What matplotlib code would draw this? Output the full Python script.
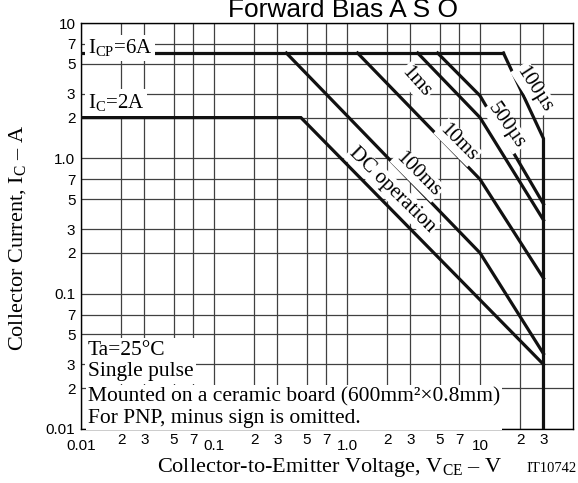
import matplotlib
matplotlib.use("Agg")
import matplotlib.pyplot as plt
from matplotlib.ticker import FixedLocator, FixedFormatter

plt.rcParams['font.family'] = ['Liberation Serif', 'DejaVu Serif']
plt.rcParams['mathtext.fontset'] = 'custom'
plt.rcParams['mathtext.rm'] = 'Liberation Serif'
plt.rcParams['mathtext.it'] = 'Liberation Serif:italic'

# SOA limit lines (V_CE in V, I_C in A)
icp_v = [0.01, 15]
icp_i = [6, 6]
dc_v = [0.01, 0.45, 30]
dc_i = [2, 2, 0.03]
ms100_v = [0.35, 10, 30]
ms100_i = [6, 0.2, 0.036]
ms10_v = [1.2, 10, 30]
ms10_i = [6, 0.7, 0.13]
ms1_v = [3.4, 10, 30]
ms1_i = [6, 2.0, 0.35]
us500_v = [4.8, 10, 30]
us500_i = [6, 2.9, 0.46]
us100_v = [15, 30, 30]
us100_i = [6, 1.4, 0.01]

# curve labels: text, x, y, angle
curve_labels = ["DC operation", "100ms", "10ms", "1ms", "500\u00b5s", "100\u00b5s"]
label_x = [2.18, 3.42, 6.83, 3.30, 15.7, 25.5]
label_y = [0.58, 0.76, 1.31, 3.66, 1.73, 3.24]
label_rot = [-44.5, -45, -45, -48, -55, -57]

x_major = [0.01, 0.1, 1, 10]
x_major_lbl = ["0.01", "0.1", "1.0", "10"]
x_minor = [0.02, 0.03, 0.05, 0.07, 0.2, 0.3, 0.5, 0.7, 2, 3, 5, 7, 20, 30]
x_minor_lbl = ["2", "3", "5", "7"] * 3 + ["2", "3"]
y_major = [0.01, 0.1, 1, 10]
y_major_lbl = ["0.01", "0.1", "1.0", "10"]
y_minor = [0.02, 0.03, 0.05, 0.07, 0.2, 0.3, 0.5, 0.7, 2, 3, 5, 7]
y_minor_lbl = ["2", "3", "5", "7"] * 3

fig = plt.figure(figsize=(5.78, 4.83), dpi=100)
ax = fig.add_axes([81 / 578, 1 - 429 / 483, 492 / 578, 406 / 483])
ax.set_xscale('log')
ax.set_yscale('log')
ax.set_xlim(0.01, 50)
ax.set_ylim(0.01, 10)

ax.xaxis.set_major_locator(FixedLocator(x_major))
ax.xaxis.set_major_formatter(FixedFormatter(x_major_lbl))
ax.xaxis.set_minor_locator(FixedLocator(x_minor))
ax.xaxis.set_minor_formatter(FixedFormatter(x_minor_lbl))
ax.yaxis.set_major_locator(FixedLocator(y_major))
ax.yaxis.set_major_formatter(FixedFormatter(y_major_lbl))
ax.yaxis.set_minor_locator(FixedLocator(y_minor))
ax.yaxis.set_minor_formatter(FixedFormatter(y_minor_lbl))
for lbl in ax.get_xticklabels(which='both') + ax.get_yticklabels(which='both'):
    lbl.set_family(['Liberation Sans', 'DejaVu Sans'])
ax.tick_params(which='both', length=0, labelsize=11)
ax.tick_params(axis='x', which='major', pad=7)
ax.tick_params(axis='x', which='minor', pad=3)
ax.tick_params(axis='y', which='both', pad=4)

ax.grid(True, which='both', color='0.25', lw=0.9)
ax.set_axisbelow(True)
for s in ax.spines.values():
    s.set_linewidth(1.0)

lw = 2.3
for v, i in [(icp_v, icp_i), (dc_v, dc_i), (ms100_v, ms100_i), (ms10_v, ms10_i),
             (ms1_v, ms1_i), (us500_v, us500_i), (us100_v, us100_i)]:
    ax.plot(v, i, color='#111111', lw=lw, solid_joinstyle='miter', zorder=3)

box = dict(fc='white', ec='none', pad=1.0)
for t, x, y, r in zip(curve_labels, label_x, label_y, label_rot):
    ax.text(x, y, t, rotation=r, rotation_mode='anchor', ha='center', va='center',
            fontsize=15, bbox=box, zorder=4)

ax.text(0.014, 0.965, "I$_{\\mathrm{CP}}$=6A", transform=ax.transAxes, fontsize=15,
        ha='left', va='top', bbox=dict(fc='white', ec='none', pad=2), zorder=4)
ax.text(0.014, 0.83, "I$_{\\mathrm{C}}$=2A", transform=ax.transAxes, fontsize=15,
        ha='left', va='top', bbox=dict(fc='white', ec='none', pad=2), zorder=4)
ax.text(0.014, 0.118, "Ta=25\u00b0C\nSingle pulse", transform=ax.transAxes, fontsize=15.5,
        ha='left', va='bottom', linespacing=1.15,
        bbox=dict(fc='white', ec='none', pad=2), zorder=4)
ax.text(0.014, 0.003, "Mounted on a ceramic board (600mm\u00b2\u00d70.8mm)\nFor PNP, minus sign is omitted.",
        transform=ax.transAxes, fontsize=15.5, ha='left', va='bottom', linespacing=1.17,
        bbox=dict(fc='white', ec='none', pad=1.5), zorder=4)

fig.text(343 / 578, 1 - 17 / 483, "Forward Bias A S O", ha='center', va='baseline',
         fontsize=19, family=['Liberation Sans', 'DejaVu Sans'])
fig.text(157 / 578, 1 - 472 / 483, "Collector-to-Emitter Voltage, V$_{\\mathrm{CE}}$ \u2013 V",
         ha='left', va='baseline', fontsize=16)
fig.text(18 / 578, 1 - 238 / 483, "Collector Current, I$_{\\mathrm{C}}$ \u2013 A",
         ha='center', va='center', rotation=90, fontsize=16)
fig.text(577 / 578, 1 - 472 / 483, "IT10742", ha='right', va='baseline', fontsize=10.5)

fig.savefig("out.png", dpi=100)
